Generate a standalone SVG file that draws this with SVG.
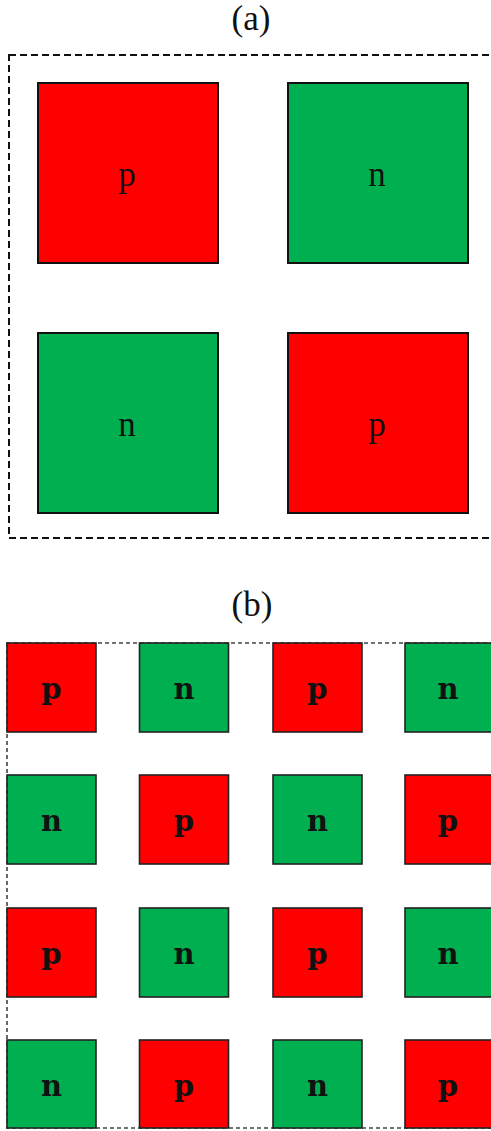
<svg xmlns="http://www.w3.org/2000/svg" width="491" height="1131" viewBox="0 0 491 1131">
<style>
.bg{fill:#ffffff}
.red{fill:#ff0000;stroke:#111;stroke-width:2}
.grn{fill:#00b050;stroke:#111;stroke-width:2}
.redb{fill:#ff0000;stroke:#222;stroke-width:1.6}
.grnb{fill:#00b050;stroke:#222;stroke-width:1.6}
.frameA{fill:none;stroke:#111;stroke-width:2;stroke-dasharray:7 4}
.frameB{fill:none;stroke:#444;stroke-width:1.6;stroke-dasharray:4 3}
.cap{font-family:"Liberation Serif",serif;font-size:35px;fill:#111;text-anchor:middle}
.la{font-family:"Liberation Serif",serif;font-size:35px;fill:#111;text-anchor:middle}
.lb{font-family:"DejaVu Serif",serif;font-size:29px;font-weight:bold;fill:#111;text-anchor:middle}
</style>
<rect class="bg" x="0" y="0" width="491" height="1131"/>
<text class="cap" x="251" y="30">(a)</text>
<rect class="frameA" x="9" y="55" width="488" height="483"/>
<g id="a-p1"><rect class="red" x="38" y="83" width="180" height="180"/><text class="la" x="127" y="186">p</text></g>
<g id="a-n1"><rect class="grn" x="288" y="83" width="180" height="180"/><text class="la" x="377" y="186">n</text></g>
<g id="a-n2"><rect class="grn" x="38" y="333" width="180" height="180"/><text class="la" x="127" y="436">n</text></g>
<g id="a-p2"><rect class="red" x="288" y="333" width="180" height="180"/><text class="la" x="377" y="436">p</text></g>

<text class="cap" x="252" y="616">(b)</text>
<rect class="frameB" x="7" y="643" width="490" height="485"/>
<g id="b-r1c1"><rect class="redb" x="7" y="643" width="89" height="89"/><text class="lb" x="51.5" y="699">p</text></g>
<g id="b-r1c2"><rect class="grnb" x="139.5" y="643" width="89" height="89"/><text class="lb" x="184" y="699">n</text></g>
<g id="b-r1c3"><rect class="redb" x="273" y="643" width="89" height="89"/><text class="lb" x="317.5" y="699">p</text></g>
<g id="b-r1c4"><rect class="grnb" x="405" y="643" width="89" height="89"/><text class="lb" x="448" y="699">n</text></g>

<g id="b-r2c1"><rect class="grnb" x="7" y="775" width="89" height="89"/><text class="lb" x="51.5" y="831">n</text></g>
<g id="b-r2c2"><rect class="redb" x="139.5" y="775" width="89" height="89"/><text class="lb" x="184" y="831">p</text></g>
<g id="b-r2c3"><rect class="grnb" x="273" y="775" width="89" height="89"/><text class="lb" x="317.5" y="831">n</text></g>
<g id="b-r2c4"><rect class="redb" x="405" y="775" width="89" height="89"/><text class="lb" x="448" y="831">p</text></g>

<g id="b-r3c1"><rect class="redb" x="7" y="908" width="89" height="89"/><text class="lb" x="51.5" y="964">p</text></g>
<g id="b-r3c2"><rect class="grnb" x="139.5" y="908" width="89" height="89"/><text class="lb" x="184" y="964">n</text></g>
<g id="b-r3c3"><rect class="redb" x="273" y="908" width="89" height="89"/><text class="lb" x="317.5" y="964">p</text></g>
<g id="b-r3c4"><rect class="grnb" x="405" y="908" width="89" height="89"/><text class="lb" x="448" y="964">n</text></g>

<g id="b-r4c1"><rect class="grnb" x="7" y="1040" width="89" height="88"/><text class="lb" x="51.5" y="1096">n</text></g>
<g id="b-r4c2"><rect class="redb" x="139.5" y="1040" width="89" height="88"/><text class="lb" x="184" y="1096">p</text></g>
<g id="b-r4c3"><rect class="grnb" x="273" y="1040" width="89" height="88"/><text class="lb" x="317.5" y="1096">n</text></g>
<g id="b-r4c4"><rect class="redb" x="405" y="1040" width="89" height="88"/><text class="lb" x="448" y="1096">p</text></g>
</svg>
